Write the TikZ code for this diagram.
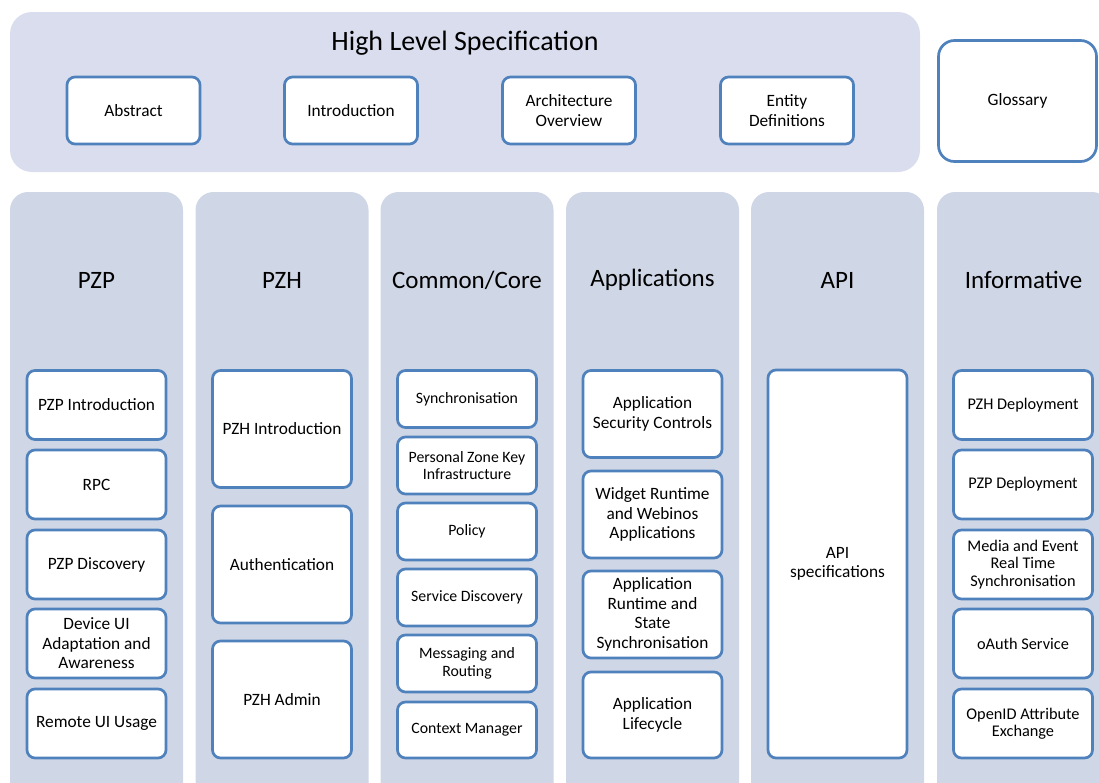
\documentclass[tikz,border=0pt]{standalone}
\usepackage{fontspec}
\setmainfont{Carlito}
\usepackage{tikz}
\usetikzlibrary{positioning}

\definecolor{hlsfill}{RGB}{217,221,238}
\definecolor{colfill}{RGB}{207,214,230}
\definecolor{itemblue}{RGB}{79,129,189}

\begin{document}
\begin{tikzpicture}[x=1pt, y=-1pt,
  panel/.style={fill=hlsfill, rounded corners=22pt, inner sep=0pt},
  column/.style={fill=colfill, rounded corners=18pt, inner sep=0pt,
    minimum width=173pt, minimum height=620pt},
  colhead/.style={font=\fontsize{25}{29}\selectfont},
  item/.style={draw=itemblue, line width=2.7pt, fill=white, rounded corners=8pt,
    minimum width=139pt, align=center, inner sep=2pt,
    font=\fontsize{17.3}{19.5}\selectfont},
  smallitem/.style={item, font=\fontsize{15.8}{17.5}\selectfont},
  infoitem/.style={item, font=\fontsize{16.3}{17.5}\selectfont}]

\useasboundingbox (0,0) rectangle (1099,782);
\clip (0,0) rectangle (1099,782);

% --- High level specification (top) ---
\node[panel, minimum width=910pt, minimum height=160pt] (hls) at (465,92) {};
\node[font=\fontsize{28}{32}\selectfont] (hlstitle) at (465,43) {High Level Specification};

\node[item, minimum width=133pt, minimum height=67pt] (abstract) at (133.5,110.5) {Abstract};
\node[item, minimum width=133pt, minimum height=67pt] (intro) at (351,110.5) {Introduction};
\node[item, minimum width=133pt, minimum height=67pt] (archov) at (569,110.5) {Architecture\\Overview};
\node[item, minimum width=133pt, minimum height=67pt] (entdef) at (787,110.5) {Entity\\Definitions};

\node[item, minimum width=158pt, minimum height=121pt, rounded corners=16pt] (glossary) at (1017.5,101) {Glossary};

% --- Columns ---
\node[column] (colpzp) at (96.5,502) {};
\node[column] (colpzh) at (282,502) {};
\node[column] (colcore) at (467,502) {};
\node[column] (colapps) at (652.5,502) {};
\node[column] (colapi) at (837.5,502) {};
\node[column] (colinfo) at (1023.5,502) {};

\node[colhead] (hpzp) at (96.5,280) {PZP};
\node[colhead] (hpzh) at (282,280) {PZH};
\node[colhead] (hcore) at (467,280) {Common/Core};
\node[colhead] (happs) at (652.5,280) {Applications};
\node[colhead] (hapi) at (837.5,280) {API};
\node[colhead] (hinfo) at (1023.5,280) {Informative};

% PZP
\node[item, minimum height=69pt] (pzpintro) at (96.5,405) {PZP Introduction};
\node[item, minimum height=69pt] (rpc) at (96.5,484.5) {RPC};
\node[item, minimum height=69pt] (pzpdisc) at (96.5,564.5) {PZP Discovery};
\node[item, minimum height=69pt] (devui) at (96.5,643.5) {Device UI\\Adaptation and\\Awareness};
\node[item, minimum height=69pt] (remui) at (96.5,723.5) {Remote UI Usage};

% PZH
\node[item, minimum height=117pt] (pzhintro) at (282,429) {PZH Introduction};
\node[item, minimum height=117pt] (auth) at (282,564.5) {Authentication};
\node[item, minimum height=117pt] (pzhadmin) at (282,699.5) {PZH Admin};

% Common/Core
\node[smallitem, minimum height=57pt] (sync) at (467,399) {Synchronisation};
\node[smallitem, minimum height=57pt] (pzkey) at (467,465.5) {Personal Zone Key\\Infrastructure};
\node[smallitem, minimum height=57pt] (policy) at (467,531.5) {Policy};
\node[smallitem, minimum height=57pt] (servdisc) at (467,597.5) {Service Discovery};
\node[smallitem, minimum height=57pt] (msgrout) at (467,663.5) {Messaging and\\Routing};
\node[smallitem, minimum height=56pt] (ctxmgr) at (467,730) {Context Manager};

% Applications
\node[item, minimum height=87pt] (appsec) at (652.5,414) {Application\\Security Controls};
\node[item, minimum height=87pt] (widget) at (652.5,514.5) {Widget Runtime\\and Webinos\\Applications};
\node[item, minimum height=87pt] (appstate) at (652.5,614.5) {Application\\Runtime and\\State\\Synchronisation};
\node[item, minimum height=86pt] (applife) at (652.5,715) {Application\\Lifecycle};

% API
\node[item, minimum height=388pt] (apispec) at (837.5,564) {API\\specifications};

% Informative
\node[infoitem, minimum height=69pt] (pzhdep) at (1023,405) {PZH Deployment};
\node[infoitem, minimum height=69pt] (pzpdep) at (1023,484.5) {PZP Deployment};
\node[infoitem, minimum height=69pt] (media) at (1023,564.5) {Media and Event\\Real Time\\Synchronisation};
\node[infoitem, minimum height=69pt] (oauth) at (1023,643.5) {oAuth Service};
\node[infoitem, minimum height=69pt] (openid) at (1023,723.5) {OpenID Attribute\\Exchange};

\end{tikzpicture}
\end{document}
